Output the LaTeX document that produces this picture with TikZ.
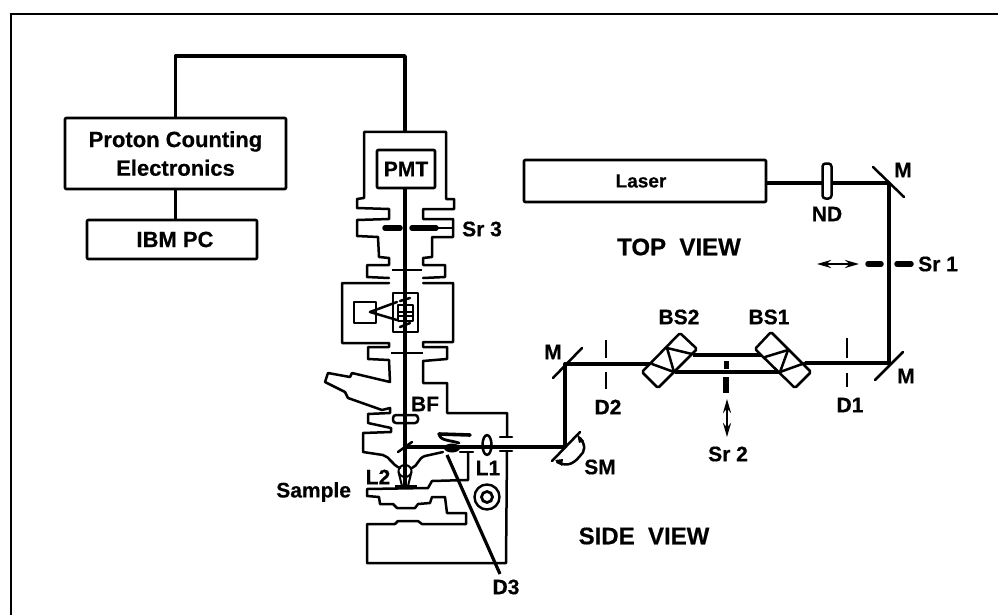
\documentclass[tikz,border=0pt]{standalone}
\usepackage{fontspec}
\setmainfont[BoldFeatures={FakeBold=0.5}]{Liberation Sans}
\usetikzlibrary{arrows.meta}
\newcommand{\lab}[1]{\fontsize{21}{24}\selectfont\bfseries #1}
\newcommand{\biglab}[1]{\fontsize{24}{26}\selectfont\bfseries #1}
\tikzset{
  every node/.style={inner sep=0pt,outer sep=0pt},
  ink/.style={draw=black,line width=2.5pt,line join=round,line cap=round},
  box/.style={ink,line width=2.6pt,rounded corners=1pt},
  wire/.style={draw=black,line width=3.6pt,line join=round},
  beam/.style={draw=black,line width=3.4pt,line join=round},
  slit/.style={draw=black,line width=2.6pt},
  bar/.style={draw=black,line width=5.5pt,line cap=round},
  filter/.style={ink,rounded corners=3pt,fill=white},
  dbl/.style={draw=black,line width=2.2pt,{Stealth[length=14pt,width=8pt]}-{Stealth[length=14pt,width=8pt]}},
  txt/.style={font=\lab},
}
\begin{document}
\begin{tikzpicture}[x=1pt,y=-1pt]
\useasboundingbox (0,0) rectangle (998,615);
% outer frame (open at right and bottom)
\draw[draw=black,line width=2.3pt] (11,615) -- (11,14) -- (998,14);

% boxes
\node[box,minimum width=221pt,minimum height=71pt,align=center] (pce) at (175.5,153.5) {\fontsize{22}{24}\selectfont\bfseries Proton Counting\\[7pt]\fontsize{22}{24}\selectfont\bfseries Electronics};
\node[box,minimum width=170pt,minimum height=39pt] (ibm) at (172,239.5) {\hspace*{6pt}\fontsize{22}{24}\selectfont\bfseries IBM PC};
\node[box,minimum width=58pt,minimum height=38pt] (pmt) at (406,169) {\lab{PMT}};
\node[box,minimum width=242pt,minimum height=42pt] (laser) at (645,181) {\fontsize{19}{22}\selectfont\bfseries Laser\hspace*{8pt}};

\coordinate (housetop) at (405,56);
\coordinate (housein) at (405,132);
\draw[wire] (pce.north) |- (housetop) -- (housein);
\draw[wire] (pce.south) -- (pce.south |- ibm.north);

% microscope outline, left side
\draw[ink] (405,132) -- (364,132) -- (364,198) -- (357,199) -- (357,208) -- (389,209) -- (389,219) -- (357,220) -- (357,236) -- (378,237) -- (379,257) -- (389,258) -- (389,265) -- (367,265) -- (367,277) -- (389,278);
\draw[ink] (389,283) -- (342,283) -- (342,343) -- (389,343) -- (389,347) -- (368,347) -- (368,359) -- (389,360) -- (390,382) -- (352,373) -- (350,377) -- (328,373) -- (325,382) -- (345,392) -- (348,398) -- (382,410) -- (390,408) -- (390,413) -- (368,414) -- (368,423) -- (391,428) -- (391,432) -- (363,433) -- (363,452) -- (383,455);
% microscope outline, right side
\draw[ink] (405,132) -- (446,132) -- (446,199) -- (454,199) -- (454,209) -- (423,209) -- (423,219) -- (453,219) -- (453,237) -- (432,237) -- (432,257) -- (423,258) -- (423,265) -- (445,265) -- (445,277) -- (423,278);
\draw[ink] (423,283) -- (453,283) -- (453,342) -- (423,342) -- (423,347) -- (447,347) -- (447,359) -- (423,361) -- (423,383) -- (447,383) -- (447,413) -- (507,413) -- (507,437);
\draw[ink] (500,437) -- (512,437);
\draw[ink] (500,451) -- (512,451);
\draw[ink] (507,451) -- (506,563) -- (367,563) -- (367,524) -- (395,524) -- (398,521) -- (418,521) -- (422,524) -- (466,524) -- (466,513) -- (447,513) -- (445,497) -- (432,497) -- (430,503) -- (418,504) -- (415,508) -- (397,508) -- (393,504) -- (380,504) -- (379,497) -- (367,496) -- (367,489) -- (428,488) -- (432,481) -- (468,480) -- (468,452);
\draw[ink] (460,452) -- (473,452);
% nosepiece curves
\draw[ink] (383,455) .. controls (390,457) and (392,465) .. (400,468);
\draw[ink] (412,468) .. controls (418,466) and (418,458) .. (425,456) -- (443,452);

% optical axis
\coordinate (axistop) at (405,188);
\coordinate (axisbot) at (405,487);
\draw[beam] (axistop) -- (axisbot);

% Sr 3
\draw[bar] (385,228) -- (400,228);
\draw[bar] (412,228) -- (436,228);
\draw[ink] (436,228) -- (453,228);
% slits on axis
\draw[slit] (392,270) -- (422,270);
\draw[slit] (391,353) -- (423,353);
% filter cube
\draw[ink] (393,293) rectangle (418,332);
\draw[ink] (398,305) rectangle (413,321);
\draw[ink] (398,312) -- (413,312);
\draw[ink] (398,316) -- (413,316);
\draw[ink] (400,301) -- (410,298);
\draw[ink] (400,327) -- (410,323);
\draw[ink] (354,302) rectangle (376,323);
\draw[ink] (370,312) -- (397,302);
\draw[ink] (370,312) -- (397,320);
% BF filter
\node[filter,minimum width=25pt,minimum height=8pt] (bf) at (405.5,419) {};
\draw[beam] (405,412) -- (405,426);
% objective L2
\draw[ink,line width=2pt] (405,471) ellipse [x radius=6.5,y radius=6];
\draw[ink,line width=2pt] (398.5,472) -- (402,486) (411.5,472) -- (408,486);
\draw[draw=black,line width=4.5pt] (395,487) -- (417,487);
% small mirror
\draw[ink] (398,452) -- (412,442);

% laser beam path
\coordinate (mtr) at (889,183);
\coordinate (mbr) at (889,363);
\coordinate (ml) at (565,364);
\coordinate (sm) at (565,447);
\draw[beam] (laser.east |- mtr) -- (mtr) -- (mbr) -- (805,363);
\draw[beam] (652,364) -- (ml) -- (sm) -- (405,447);
\draw[beam] (693,355) -- (763,355);
\draw[beam] (675,372) -- (780,372);

% mirrors
\draw[ink] (873,167) -- (904,197);
\draw[ink] (875,380) -- (903,352);
\draw[ink] (553,378) -- (582,348);
\draw[ink] (552,461) -- (580,432);
% SM rotation
\draw[ink] (580,438) .. controls (586,445) and (585,452) .. (580,456);
\draw[ink] (557,462) .. controls (565,466) and (572,466) .. (580,456);
\fill (577,434) -- (584,441) -- (579,443) -- cycle;
\fill (555,460) -- (563,459) -- (562,466) -- cycle;

% ND filter
\node[filter,minimum width=9pt,minimum height=35pt] (nd) at (827,181) {};
% Sr 1
\draw[bar] (868,264) -- (881,264);
\draw[bar] (897,264) -- (911,264);
\draw[dbl] (817,264) -- (859,264);
% D slits
\draw[slit] (847,338) -- (847,358) (847,373) -- (847,387);
\draw[slit] (606,340) -- (606,358) (606,372) -- (606,389);
% BS1
\draw[ink,rounded corners=1.5pt,fill=white] (771,332) -- (811,372) -- (795,388) -- (755,349) -- cycle;
\draw[ink] (788,350) -- (765,357);
\draw[ink] (788,350) -- (780,372) -- (805,363);
% BS2
\draw[ink,rounded corners=1.5pt,fill=white] (680,333) -- (697,349) -- (658,388) -- (642,372) -- cycle;
\draw[ink] (667,348) -- (692,354);
\draw[ink] (667,348) -- (674,372) -- (652,364);
% Sr 2
\draw[draw=black,line width=5pt] (726,361) -- (726,369);
\draw[draw=black,line width=6pt] (726,377) -- (726,393);
\draw[dbl] (727,399) -- (727,437);

% L1 lens and knob
\node[ink,draw,circle,minimum size=9pt,yscale=2.2,fill=white] (l1) at (487,445) {};
\draw[beam] (481,447) -- (493,447);
\node[draw,circle,line width=2.4pt,minimum size=25pt] (knobo) at (487,497) {};
\node[draw,circle,line width=2.8pt,minimum size=11pt] (knobi) at (487,497) {};

% shutter / D3 assembly
\draw[draw=black,line width=3.6pt,line cap=round] (439,434) -- (470,435);
\draw[ink,line width=2.8pt] (439,434) .. controls (440,441) and (450,440) .. (459,443);
\fill[black] (452,448) ellipse [x radius=8,y radius=4.5];
\coordinate (d3top) at (447,455);
\coordinate (d3end) at (500,574);
\draw[draw=black,line width=3.2pt] (d3top) -- (d3end);

% labels
\node[txt] (lsr3) at (482,229) {Sr 3};
\node[txt] (lbf) at (425,404) {BF};
\node[txt] (ll2) at (378,477) {L2};
\node[txt] (ll1) at (488,468) {L1};
\node[txt,anchor=east] (lsample) at (351,492) {Sample};
\node[txt] (ld3) at (506,587) {D3};
\node[txt] (lsm) at (600,467) {SM};
\node[txt] (lm1) at (553,352) {M};
\node[txt] (lm2) at (903,170) {M};
\node[txt] (lm3) at (906,376) {M};
\node[txt] (lnd) at (827,214) {ND};
\node[txt] (ld2) at (608,407) {D2};
\node[txt] (ld1) at (850,405) {D1};
\node[txt] (lsr2) at (728,454) {Sr 2};
\node[txt] (lsr1) at (938,264) {Sr 1};
\node[txt] (lbs2) at (679,317) {BS2};
\node[txt] (lbs1) at (769,317) {BS1};
\node (ltop) at (679,247) {\biglab{TOP\ \ VIEW}};
\node (lside) at (644,536) {\biglab{SIDE\ \ VIEW}};
\end{tikzpicture}
\end{document}
